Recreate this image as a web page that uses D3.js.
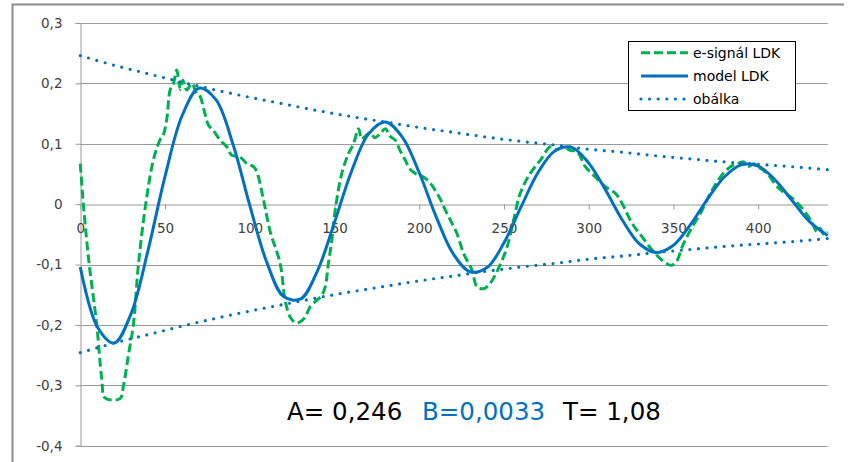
<!DOCTYPE html>
<html>
<head>
<meta charset="utf-8">
<script src="https://cdn.jsdelivr.net/npm/d3@7"></script>
<style>
  html, body { margin: 0; padding: 0; background: #fff; }
  svg { display: block; }
  text { font-family: "DejaVu Sans", sans-serif; }
</style>
</head>
<body>
<svg id="chart" width="854" height="462"></svg>
<script>
// ---------------- data ----------------
const xTicks = [0, 50, 100, 150, 200, 250, 300, 350, 400];
const yTicks = [0.3, 0.2, 0.1, 0, -0.1, -0.2, -0.3, -0.4];

// e-signál LDK (measured signal)
const sigX = [0,1.8,5,9.7,12.7,14.6,23.4,25.5,28.4,31.3,34.3,38.6,43.1,47.1,49,51,53,55,56.9,59,60.5,62.8,65.8,68.7,70.7,73,75.6,78.5,82.5,86.4,89.4,94.3,98.3,102.2,104.2,108.1,112,117.9,120.9,123.8,126.8,129.7,132.7,135.6,139.6,142.5,144.5,146.4,148.4,150.4,154.3,158.3,161.2,164.2,166,168,171,173.9,177,180,183,185.8,188.5,191.7,194.5,197.6,200.5,203.5,206.5,209.4,212.5,215.4,218.3,222.3,226.2,231.1,234.1,238,241.9,246.8,251.8,255.7,259.6,265.5,271.5,277.4,281,285.2,289,293.1,298,303.9,309.8,315.7,319.7,325.6,331.5,337.4,343.3,347,349.2,352.2,355.1,360,365.9,371.8,377.7,383.6,387,391.5,394,397.4,401,405.3,411.2,415,419.1,425,430.9,434.8,436.5,438.7,441];
const sigY = [0.067,0.0,-0.093,-0.2,-0.29,-0.321,-0.322,-0.3,-0.25,-0.2,-0.1,0,0.073,0.107,0.115,0.14,0.189,0.2,0.222,0.19,0.205,0.189,0.2,0.183,0.178,0.156,0.131,0.122,0.106,0.095,0.081,0.078,0.067,0.062,0.053,0.007,-0.045,-0.098,-0.16,-0.187,-0.196,-0.195,-0.187,-0.17,-0.159,-0.151,-0.137,-0.098,-0.06,-0.01,0.051,0.084,0.10,0.125,0.108,0.112,0.118,0.11,0.117,0.125,0.112,0.106,0.09,0.073,0.058,0.051,0.048,0.043,0.035,0.023,0.008,-0.01,-0.026,-0.049,-0.082,-0.109,-0.137,-0.14,-0.131,-0.106,-0.071,-0.026,0.018,0.051,0.073,0.095,0.09,0.095,0.089,0.087,0.062,0.045,0.029,0.018,0.001,-0.032,-0.054,-0.076,-0.093,-0.1,-0.101,-0.093,-0.071,-0.043,-0.015,0.018,0.045,0.062,0.066,0.07,0.062,0.067,0.06,0.051,0.029,0.02,0.012,-0.004,-0.026,-0.046,-0.04,-0.05,-0.046];

// model LDK
const modelX = [0,10,20,30,40,50,60,70,80,90,100,110,120,130,140,150,160,170,180,190,200,210,220,230,240,250,260,270,280,290,300,310,320,330,340,350,360,370,380,390,400,410,420,430,441];
const modelY = [-0.104,-0.203,-0.230,-0.181,-0.076,0.046,0.146,0.192,0.173,0.100,-0.002,-0.096,-0.153,-0.157,-0.110,-0.030,0.054,0.116,0.136,0.111,0.052,-0.021,-0.082,-0.112,-0.105,-0.064,-0.005,0.052,0.088,0.094,0.068,0.023,-0.027,-0.066,-0.080,-0.068,-0.034,0.008,0.045,0.065,0.063,0.040,0.006,-0.028,-0.052];

// obálka (envelope)
const envX = [0,20,40,60,80,100,120,140,160,180,200,220,240,260,280,300,320,340,360,380,400,420,441];
const envUpper = [0.246,0.230,0.216,0.202,0.189,0.177,0.166,0.155,0.145,0.136,0.127,0.119,0.111,0.104,0.098,0.091,0.086,0.080,0.075,0.070,0.066,0.062,0.057];
const envLower = [-0.246,-0.230,-0.216,-0.202,-0.189,-0.177,-0.166,-0.155,-0.145,-0.136,-0.127,-0.119,-0.111,-0.104,-0.098,-0.091,-0.086,-0.080,-0.075,-0.070,-0.066,-0.062,-0.057];

const legendLabels = ["e-signál LDK", "model LDK", "obálka"];
const annA = "A= 0,246", annB = "B=0,0033", annT = "T= 1,08";

// ---------------- drawing ----------------
const GREEN = "#00B050", BLUE = "#0070C0", GRID = "#9a9a9a";
const svg = d3.select("#chart");

// chart area border (top and left edges visible)
svg.append("path").attr("d", "M12.5,470 L12.5,4.5 L844,4.5")
  .attr("fill", "none").attr("stroke", "#8a8a8a").attr("stroke-width", 2);

const x = d3.scaleLinear().domain([0, 441]).range([80.3, 827.7]);
const y = d3.scaleLinear().domain([-0.4, 0.3]).range([445.7, 23]);

const fmt = v => d3.format(".1f")(v).replace(".", ",").replace("−", "-");

// gridlines
svg.append("g").selectAll("line").data(yTicks.filter(d => d !== 0)).join("line")
  .attr("x1", x(0)).attr("x2", x(441))
  .attr("y1", d => Math.round(y(d)) + 0.5).attr("y2", d => Math.round(y(d)) + 0.5)
  .attr("stroke", GRID).attr("stroke-width", 1);

// y axis
const yAxis = d3.axisLeft(y).tickValues(yTicks).tickSize(5).tickPadding(13)
  .tickFormat(d => d === 0 ? "0" : fmt(d));
const gy = svg.append("g").attr("transform", `translate(${Math.round(x(0)) + 0.5},0)`).call(yAxis);
gy.select(".domain").attr("stroke", GRID);
gy.selectAll(".tick line").attr("stroke", GRID);
gy.selectAll(".tick text").attr("font-family", "DejaVu Sans").attr("font-size", 13.5).attr("fill", "#404040");

// x axis at y = 0
const xAxis = d3.axisBottom(x).tickValues(xTicks).tickSize(5).tickPadding(14).tickSizeOuter(0);
const gx = svg.append("g").attr("transform", `translate(0,${Math.round(y(0)) + 0.5})`).call(xAxis);
gx.select(".domain").attr("stroke", GRID);
gx.selectAll(".tick line").attr("stroke", GRID);
gx.selectAll(".tick text").attr("font-family", "DejaVu Sans").attr("font-size", 13.5).attr("fill", "#404040");

// series
const sig = sigX.map((d, i) => [d, sigY[i]]);
const model = modelX.map((d, i) => [d, modelY[i]]);
const up = envX.map((d, i) => [d, envUpper[i]]);
const lo = envX.map((d, i) => [d, envLower[i]]);

const lineSmooth = d3.line().x(d => x(d[0])).y(d => y(d[1])).curve(d3.curveCatmullRom.alpha(0.5));

svg.append("path").attr("d", lineSmooth(sig)).attr("fill", "none")
  .attr("stroke", GREEN).attr("stroke-width", 3).attr("stroke-dasharray", "9 4");
svg.append("path").attr("d", lineSmooth(model)).attr("fill", "none")
  .attr("stroke", BLUE).attr("stroke-width", 3).attr("stroke-linejoin", "round");
[up, lo].forEach(s => {
  svg.append("path").attr("d", lineSmooth(s)).attr("fill", "none")
    .attr("stroke", BLUE).attr("stroke-width", 3.2).attr("stroke-linecap", "round")
    .attr("stroke-dasharray", "0 8.6");
});

// legend
const lg = svg.append("g");
lg.append("rect").attr("x", 628.5).attr("y", 41.5).attr("width", 167).attr("height", 69)
  .attr("fill", "#fff").attr("stroke", "#000").attr("stroke-width", 1);
const rows = [52.7, 76, 99];
const styles = [
  {stroke: GREEN, dash: "9 4", cap: "butt", w: 3},
  {stroke: BLUE, dash: null, cap: "butt", w: 3},
  {stroke: BLUE, dash: "0 8.6", cap: "round", w: 3.2}
];
legendLabels.forEach((lab, i) => {
  lg.append("line").attr("x1", 641).attr("x2", 688).attr("y1", rows[i]).attr("y2", rows[i])
    .attr("stroke", styles[i].stroke).attr("stroke-width", styles[i].w)
    .attr("stroke-linecap", styles[i].cap).attr("stroke-dasharray", styles[i].dash);
  lg.append("text").attr("x", 693).attr("y", rows[i]).attr("dy", "0.36em")
    .attr("font-size", 14).attr("fill", "#000").text(lab);
});

// annotation
const ann = svg.append("g").attr("font-size", 24.5);
ann.append("text").attr("x", 287).attr("y", 420).attr("fill", "#000").text(annA);
ann.append("text").attr("x", 422).attr("y", 420).attr("fill", BLUE).text(annB);
ann.append("text").attr("x", 563).attr("y", 420).attr("fill", "#000").text(annT);
</script>
</body>
</html>
